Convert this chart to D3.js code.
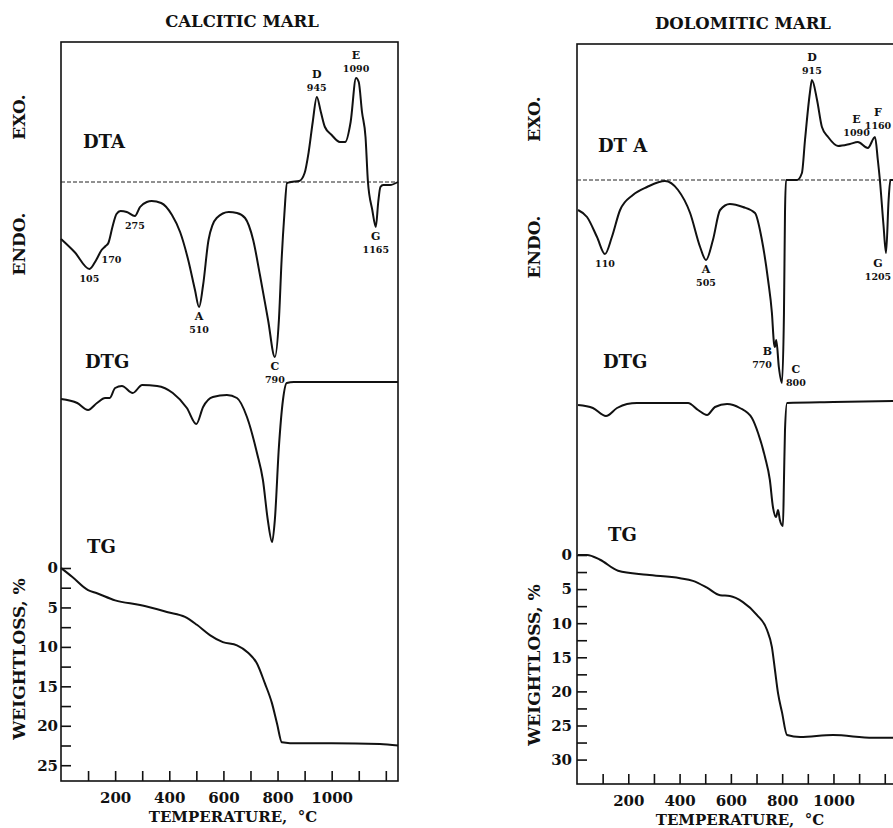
<!DOCTYPE html>
<html>
<head>
<meta charset="utf-8">
<script src="https://cdn.jsdelivr.net/npm/d3@7"></script>
<style>
  body { margin: 0; background: #fff; }
  text { font-family: "DejaVu Serif", serif; font-weight: bold; fill: #111; }
</style>
</head>
<body>
<div id="chart"></div>
<script>
// Temperature axis (°C)
const tempTicks = [100, 200, 300, 400, 500, 600, 700, 800, 900, 1000, 1100, 1200];
const tempLabels = [200, 400, 600, 800, 1000];

// ---- CALCITIC MARL ----
// DTA signal (arbitrary units, + = exo)
const calciticDTA = [
  [0, -57], [50, -70], [105, -87], [130, -78], [150, -68], [165, -64], [175, -61],
  [190, -45], [205, -32], [220, -29], [243, -30], [273, -34], [292, -25], [317, -20],
  [335, -19], [370, -21], [410, -33], [440, -50], [470, -78], [495, -108], [510, -125],
  [525, -103], [545, -58], [575, -36], [620, -30], [650, -31], [680, -36], [710, -58],
  [735, -93], [765, -138], [790, -175], [805, -138], [815, -78], [825, -33], [835, -1],
  [850, 0], [880, 1], [900, 9], [915, 30], [930, 60], [945, 85], [960, 70], [975, 55],
  [1000, 47], [1030, 40], [1050, 40], [1070, 60], [1090, 104], [1100, 100], [1112, 70],
  [1125, 45], [1134, 0], [1150, -28], [1163, -45], [1172, -20], [1180, -5], [1190, -3],
  [1215, -3], [1245, 0]
];
// DTG (arbitrary units, + = weight-loss rate, drawn downward)
const calciticDTG = [
  [0, 17], [60, 21], [100, 28], [133, 21], [163, 16], [180, 16], [200, 6], [225, 4],
  [265, 11], [300, 3], [355, 4], [413, 11], [465, 26], [500, 42], [525, 25], [561, 15],
  [613, 13], [650, 16], [687, 35], [724, 71], [746, 98], [764, 138], [780, 160],
  [790, 138], [805, 65], [820, 18], [834, 1], [860, 0], [1245, 0]
];
// TG weight loss (%)
const calciticTG = [
  [0, 0], [41, 1.1], [100, 2.8], [133, 3.2], [200, 4.1], [292, 4.7], [395, 5.6],
  [458, 6.2], [502, 7.2], [550, 8.5], [598, 9.4], [650, 9.8], [690, 10.7], [724, 12.1],
  [753, 14.6], [779, 17.1], [798, 19.7], [816, 22.1], [846, 22.2], [1000, 22.2],
  [1178, 22.3], [1245, 22.5]
];
const calciticTGTicks = d3.range(0, 25.1, 2.5);
const calciticPeaks = [
  { lines: ["105"], t: 105, v: -87, pos: "below" },
  { lines: ["170"], t: 150, v: -68, pos: "belowRight" },
  { lines: ["275"], t: 273, v: -34, pos: "below" },
  { lines: ["A", "510"], t: 510, v: -125, pos: "below" },
  { lines: ["C", "790"], t: 790, v: -175, pos: "below" },
  { lines: ["G", "1165"], t: 1163, v: -45, pos: "below" },
  { lines: ["D", "945"], t: 945, v: 85, pos: "above" },
  { lines: ["E", "1090"], t: 1090, v: 104, pos: "above" }
];

// ---- DOLOMITIC MARL ----
const dolomiticDTA = [
  [4, -30], [39, -37], [78, -57], [109, -74], [136, -57], [168, -30], [218, -15],
  [273, -7], [343, -1], [394, -10], [441, -33], [480, -67], [503, -80], [530, -60],
  [558, -30], [596, -24], [647, -27], [694, -33], [721, -60], [745, -100], [760, -133],
  [768, -163], [772, -167], [777, -160], [787, -187], [799, -203], [807, -133],
  [811, -33], [815, 0], [858, 0], [877, 7], [889, 40], [908, 87], [916, 100],
  [936, 80], [955, 53], [979, 43], [1018, 34], [1064, 36], [1095, 38], [1134, 32],
  [1162, 43], [1173, 20], [1181, 0], [1195, -45], [1205, -73], [1215, -20],
  [1222, 0], [1245, 0]
];
const dolomiticDTG = [
  [4, 2], [62, 5], [113, 13], [156, 5], [195, 1], [234, 0], [433, 0], [472, 7],
  [507, 12], [538, 4], [585, 1], [635, 5], [682, 15], [706, 30], [733, 54], [752, 77],
  [764, 104], [776, 114], [784, 107], [791, 117], [803, 123], [807, 77], [811, 27],
  [819, 0], [1000, -1], [1245, -2]
];
const dolomiticTG = [
  [4, 0], [39, 0], [90, 0.7], [160, 2.3], [273, 2.9], [402, 3.4], [452, 3.8],
  [507, 4.8], [558, 5.9], [596, 6.0], [647, 6.9], [702, 8.8], [741, 11.0], [760, 13.5],
  [772, 16.9], [784, 20.3], [799, 23.0], [819, 26.4], [870, 26.7], [998, 26.4],
  [1154, 26.8], [1245, 26.8]
];
const dolomiticTGTicks = d3.range(0, 30.1, 2.5);
const dolomiticPeaks = [
  { lines: ["110"], t: 109, v: -74, pos: "below" },
  { lines: ["A", "505"], t: 503, v: -80, pos: "below" },
  { lines: ["B", "770"], t: 772, v: -167, pos: "left" },
  { lines: ["C", "800"], t: 799, v: -203, pos: "right" },
  { lines: ["G", "1205"], t: 1205, v: -73, pos: "belowEdge" },
  { lines: ["D", "915"], t: 916, v: 100, pos: "above" },
  { lines: ["E", "1090"], t: 1090, v: 38, pos: "above" },
  { lines: ["F", "1160"], t: 1162, v: 43, pos: "aboveEdge" }
];

// Layout for each panel
const panels = [
  {
    title: "CALCITIC MARL", titleX: 242, titleY: 27,
    left: 61, right: 398, top: 42, bottom: 781,
    dtaBase: 182, dtgBase: 382, tgTop: 568, tgMax: 27, tgPad: 3,
    sideX: 19, exoY: 117, endoY: 244, wlY: 659, tempX: 233,
    dtaLbl: [83, 148, "DTA"], dtgLbl: [85, 368], tgLbl: [87, 553],
    dta: calciticDTA, dtg: calciticDTG, tg: calciticTG, tgTicks: calciticTGTicks, peaks: calciticPeaks
  },
  {
    title: "DOLOMITIC MARL", titleX: 743, titleY: 29,
    left: 577, right: 896.3, top: 44, bottom: 784,
    dtaBase: 180, dtgBase: 403, tgTop: 555, tgMax: 33.58, tgPad: 5,
    sideX: 534, exoY: 119, endoY: 247, wlY: 665, tempX: 740,
    dtaLbl: [598, 152, "DT A"], dtgLbl: [603, 368], tgLbl: [608, 541],
    dta: dolomiticDTA, dtg: dolomiticDTG, tg: dolomiticTG, tgTicks: dolomiticTGTicks, peaks: dolomiticPeaks
  }
];

const svg = d3.select("#chart")
  .append("svg")
  .attr("width", 893)
  .attr("height", 828);

function drawPanel(p) {
  const g = svg.append("g");

  const x = d3.scaleLinear().domain([0, 1245]).range([p.left, p.right]);
  const yDTA = d3.scaleLinear().domain([0, 100]).range([p.dtaBase, p.dtaBase - 100]);
  const yDTG = d3.scaleLinear().domain([0, 100]).range([p.dtgBase, p.dtgBase + 100]);
  const yTG = d3.scaleLinear().domain([0, p.tgMax]).range([p.tgTop, p.bottom]);

  // Title
  g.append("text")
    .attr("x", p.titleX).attr("y", p.titleY)
    .attr("text-anchor", "middle")
    .style("font-size", "16.5px")
    .text(p.title);

  // Frame
  g.append("rect")
    .attr("x", p.left).attr("y", p.top)
    .attr("width", p.right - p.left).attr("height", p.bottom - p.top)
    .attr("fill", "none").attr("stroke", "#111").attr("stroke-width", 1.6);

  // DTA zero line (dashed)
  g.append("line")
    .attr("x1", p.left).attr("x2", p.right)
    .attr("y1", yDTA(0)).attr("y2", yDTA(0))
    .attr("stroke", "#222").attr("stroke-width", 1)
    .attr("stroke-dasharray", "4,2");

  // Temperature axis (ticks point up)
  g.append("g")
    .attr("transform", `translate(0,${p.bottom})`)
    .call(d3.axisBottom(x)
      .tickValues(tempTicks)
      .tickSizeInner(-10).tickSizeOuter(0)
      .tickPadding(11)
      .tickFormat(d => tempLabels.includes(d) ? d : ""))
    .call(a => a.select(".domain").remove())
    .call(a => a.selectAll("line").attr("stroke", "#111").attr("stroke-width", 1.6))
    .call(a => a.selectAll("text").style("font-size", "15px"));

  // Weight loss axis (ticks point right)
  g.append("g")
    .attr("transform", `translate(${p.left},0)`)
    .call(d3.axisLeft(yTG)
      .tickValues(p.tgTicks)
      .tickSizeInner(-10).tickSizeOuter(0)
      .tickPadding(p.tgPad)
      .tickFormat(d => d % 5 === 0 ? d : ""))
    .call(a => a.select(".domain").remove())
    .call(a => a.selectAll("line").attr("stroke", "#111").attr("stroke-width", 1.6))
    .call(a => a.selectAll("text").style("font-size", "15px"));

  // Axis titles
  g.append("text")
    .attr("x", p.tempX).attr("y", p.bottom + 41)
    .attr("text-anchor", "middle")
    .style("font-size", "15px")
    .attr("xml:space", "preserve")
    .text("TEMPERATURE,  °C");

  const side = [["EXO.", p.exoY], ["ENDO.", p.endoY], ["WEIGHTLOSS, %", p.wlY]];
  side.forEach(([t, cy]) => {
    g.append("text")
      .attr("transform", `translate(${p.sideX},${cy}) rotate(-90)`)
      .attr("text-anchor", "middle")
      .attr("dominant-baseline", "central")
      .style("font-size", "17px")
      .text(t);
  });

  // Curve labels
  g.append("text").attr("x", p.dtaLbl[0]).attr("y", p.dtaLbl[1]).style("font-size", "18px").text(p.dtaLbl[2]);
  g.append("text").attr("x", p.dtgLbl[0]).attr("y", p.dtgLbl[1]).style("font-size", "18px").text("DTG");
  g.append("text").attr("x", p.tgLbl[0]).attr("y", p.tgLbl[1]).style("font-size", "18px").text("TG");

  // Curves
  const curve = (yS, data) => g.append("path")
    .datum(data)
    .attr("fill", "none")
    .attr("stroke", "#111")
    .attr("stroke-width", 2)
    .attr("stroke-linejoin", "round")
    .attr("d", d3.line().x(d => x(d[0])).y(d => yS(d[1])).curve(d3.curveMonotoneX));

  curve(yDTA, p.dta);
  curve(yDTG, p.dtg);
  curve(yTG, p.tg);

  // Peak annotations
  p.peaks.forEach(pk => {
    const px = x(pk.t), py = yDTA(pk.v);
    let ax = px, anchor = "middle", y0;
    const n = pk.lines.length;
    if (pk.pos === "below") y0 = py + 13;
    else if (pk.pos === "belowRight") { y0 = py + 13; anchor = "start"; }
    else if (pk.pos === "belowEdge") { y0 = py + 14; ax = 878; }
    else if (pk.pos === "above") y0 = py - 6 - (n - 1) * 13;
    else if (pk.pos === "aboveEdge") { y0 = py - 8 - (n - 1) * 13; ax = 878; }
    else if (pk.pos === "left") { y0 = py + 8; ax = px - 3; anchor = "end"; }
    else if (pk.pos === "right") { y0 = py - 10; ax = px + 14; }
    pk.lines.forEach((l, i) => {
      g.append("text")
        .attr("x", ax).attr("y", y0 + i * 13)
        .attr("text-anchor", anchor)
        .style("font-size", /^[A-Z]$/.test(l) ? "11px" : "9.5px")
        .text(l);
    });
  });
}

panels.forEach(drawPanel);
</script>
</body>
</html>
